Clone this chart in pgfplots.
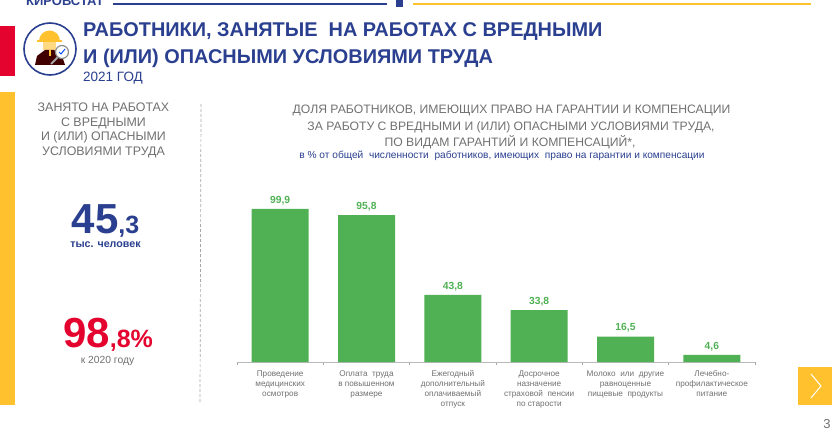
\documentclass[border=0pt]{standalone}
\usepackage{pgfplots}
\pgfplotsset{compat=1.18}
\usepackage{fontspec}
\setmainfont{Liberation Sans}
\definecolor{navy}{HTML}{2A3F8F}
\definecolor{barg}{HTML}{4FB153}
\definecolor{gld}{HTML}{FFC22E}
\definecolor{redd}{HTML}{E4032E}
\definecolor{gtxt}{HTML}{707070}
\definecolor{valg}{HTML}{4FB153}
\newcommand{\R}{\rule{0pt}{8pt}}
\begin{document}
\begin{tikzpicture}[x=1pt,y=1pt]
\path[use as bounding box] (0,0) rectangle (832,432);
\begin{scope}
\clip (0,0) rectangle (832,432);
% top band
\node[anchor=base west,font=\bfseries\fontsize{13}{13}\selectfont,text=navy,inner sep=0] at (26,426) {КИРОВСТАТ};
\fill[navy] (113,427.3) rectangle (387,428.8);
\fill[navy] (396,425) rectangle (403,432);
\fill[gld] (413,427.3) rectangle (810.5,428.8);
% side bars
\fill[redd] (0,356) rectangle (15,406);
\fill[gld] (0,27) rectangle (15,340);
% icon
\draw[navy,line width=1.6] (50,383) circle (26);
\fill[gld] (39,391) arc (180:0:10.5) -- cycle;
\fill[gld] (37,389.5) rectangle (62,391.5);
\fill[gld!60!white] (43,382) rectangle (56,389.5);
\fill[black!75!red] (35,367) -- (37,376) -- (45,382) -- (54,382) -- (62,376) -- (65,367) -- cycle;
\fill[gld] (48.5,376) rectangle (50.5,382);
\draw[gray!70,line width=2] (51,368) -- (58,375);
\fill[white] (62,380) circle (6.5);
\draw[black!45,line width=1.2] (62,380) circle (6.5);
\draw[blue!70!cyan,line width=1] (59,380) -- (61,378) -- (65,383);
% title
\node[anchor=west,inner sep=0,text=navy,font=\bfseries\fontsize{19.9}{20}\selectfont] at (83,400) {РАБОТНИКИ, ЗАНЯТЫЕ\ \ НА РАБОТАХ С ВРЕДНЫМИ};
\node[anchor=west,inner sep=0,text=navy,font=\bfseries\fontsize{19.9}{20}\selectfont] at (83,374) {И (ИЛИ) ОПАСНЫМИ УСЛОВИЯМИ ТРУДА};
\node[anchor=west,inner sep=0,text=navy,font=\fontsize{13.5}{14}\selectfont] at (83,353.5) {2021 ГОД};
% left panel
\node[align=center,text=gtxt,font=\fontsize{12.4}{14.7}\selectfont,inner sep=0] at (103.5,301.5) {ЗАНЯТО НА РАБОТАХ\\С ВРЕДНЫМИ\\И (ИЛИ) ОПАСНЫМИ\\УСЛОВИЯМИ ТРУДА};
\node[anchor=base,inner sep=0,text=navy,font=\bfseries,align=center] at (105.5,199) {\fontsize{42}{42}\selectfont 45\fontsize{25}{25}\selectfont,3};
\node[inner sep=0,text=navy,font=\bfseries\fontsize{10.7}{11}\selectfont] at (105.5,187.5) {тыс. человек};
\node[anchor=base,inner sep=0,text=redd,font=\bfseries] at (108,85) {\fontsize{42}{42}\selectfont 98\fontsize{25}{25}\selectfont,8\%};
\node[inner sep=0,text=gtxt,font=\fontsize{10.3}{11}\selectfont] at (107.5,71.5) {к 2020 году};
\draw[gray!70,line width=0.7,dash pattern=on 3pt off 2pt] (201,328) -- (200,29);
% chart heading
\node[inner sep=0,text=gtxt,font=\fontsize{12.2}{14}\selectfont] at (511.5,322) {ДОЛЯ РАБОТНИКОВ, ИМЕЮЩИХ ПРАВО НА ГАРАНТИИ И КОМПЕНСАЦИИ};
\node[inner sep=0,text=gtxt,font=\fontsize{12.2}{14}\selectfont] at (511,304.5) {ЗА РАБОТУ С ВРЕДНЫМИ И (ИЛИ) ОПАСНЫМИ УСЛОВИЯМИ ТРУДА,};
\node[inner sep=0,text=gtxt,font=\fontsize{12.2}{14}\selectfont] at (510,290) {ПО ВИДАМ ГАРАНТИЙ И КОМПЕНСАЦИЙ*,};
\node[inner sep=0,text=navy,font=\fontsize{10.15}{11}\selectfont] at (502,276) {в \% от общей\ \ численности\ \ работников,\ имеющих\ \ право на гарантии\ и\ компенсации};
% next button
\fill[gld] (798,27) rectangle (832,65);
\draw[white,line width=1] (811,58) -- (821,46) -- (811,34);
\node[inner sep=0,text=gtxt,font=\fontsize{13}{13}\selectfont] at (827,7.5) {3};
\end{scope}
\begin{axis}[
  at={(237pt,70pt)},anchor=south west,
  width=518pt,height=168.6pt,scale only axis,
  xmin=-0.5,xmax=5.5,ymin=0,ymax=110,
  axis x line=bottom,axis y line=none,
  axis line style={draw=gray!55,line width=0.9pt,-},
  ybar,bar width=57pt,
  xtick={0,1,2,3,4,5},
  xticklabels={{\R Проведение\\медицинских\\осмотров},{\R Оплата\ \ труда\\в повышенном\\размере},{\R Ежегодный\\дополнительный\\оплачиваемый\\отпуск},{\R Досрочное\\назначение\\страховой\ \ пенсии\\по старости},{\R Молоко\ \ или\ \ другие\\равноценные\\пищевые\ \ продукты},{\R Лечебно-\\профилактическое\\питание}},
  xticklabel style={align=center,text=gtxt,font=\fontsize{8.2}{10}\selectfont,anchor=north,yshift=-6.5pt,inner sep=0pt},
  major tick length=0pt,
  minor xtick={-0.5,0.5,1.5,2.5,3.5,4.5,5.5},
  minor tick length=3pt,
  tick style={draw=gray!70,line width=0.7pt},
  tick align=outside,
  nodes near coords,
  point meta=explicit symbolic,
  nodes near coords style={text=valg,font=\bfseries\fontsize{10.3}{11}\selectfont,inner sep=0,yshift=4pt},
]
\addplot[fill=barg,draw=none,bar shift=0pt] table[meta=lab,row sep=crcr] {
x y lab\\
0 99.9 {99,9}\\
1 95.8 {95,8}\\
2 43.8 {43,8}\\
3 33.8 {33,8}\\
4 16.5 {16,5}\\
5 4.6 {4,6}\\
};
\end{axis}
\end{tikzpicture}
\end{document}
